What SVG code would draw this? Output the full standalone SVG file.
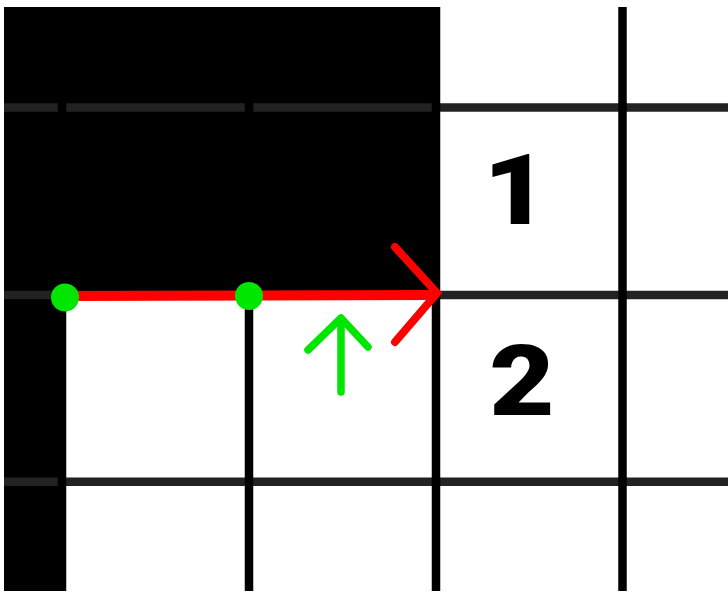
<svg xmlns="http://www.w3.org/2000/svg" width="728" height="592" viewBox="0 0 728 592">
<style>
.h{stroke:#222;stroke-width:8.5;fill:none}
.v{stroke:#000;stroke-width:8.5;fill:none}
.red{stroke:#ff0000;stroke-width:10;fill:none;stroke-linecap:round;stroke-linejoin:round}
.redh{stroke:#ff0000;stroke-width:8;fill:none;stroke-linecap:round;stroke-linejoin:miter}
.grn{stroke:#00e600;stroke-width:7.5;fill:none;stroke-linecap:round;stroke-linejoin:round}
.dot{fill:#00e600}
.num{font-family:Roboto,"Liberation Sans",sans-serif;font-weight:900;font-size:98px;fill:#000;text-anchor:middle}
</style>
<rect width="728" height="592" fill="#fff"/>
<g id="shade">
<rect x="4" y="7" width="436" height="290" fill="#000"/>
<rect x="4" y="290" width="62" height="301" fill="#000"/>
</g>
<g id="grid">
<line class="h" x1="4" y1="107.5" x2="728" y2="107.5"/>
<line class="h" x1="4" y1="295" x2="728" y2="295"/>
<line class="h" x1="4" y1="481.7" x2="728" y2="481.7"/>
<line class="v" x1="62" y1="7" x2="62" y2="591"/>
<line class="v" x1="249" y1="7" x2="249" y2="591"/>
<line class="v" x1="436" y1="7" x2="436" y2="591"/>
<line class="v" x1="622.5" y1="7" x2="622.5" y2="591"/>
</g>
<g id="connectors">
<line class="red" x1="65" y1="296" x2="434" y2="295"/>
<polyline class="redh" points="395,247 437,293 395,342"/>
<line class="grn" x1="341" y1="320" x2="341" y2="392"/>
<polyline class="grn" points="308,350 341,318 368,347"/>
</g>
<g id="dot1"><circle class="dot" cx="65" cy="297.5" r="14"/></g>
<g id="dot2"><circle class="dot" cx="249" cy="296" r="14"/></g>
<g id="label1"><text class="num" transform="translate(516,224) scale(1.15,1)">1</text></g>
<g id="label2"><text class="num" transform="translate(522,415) scale(1.15,1)">2</text></g>
</svg>
